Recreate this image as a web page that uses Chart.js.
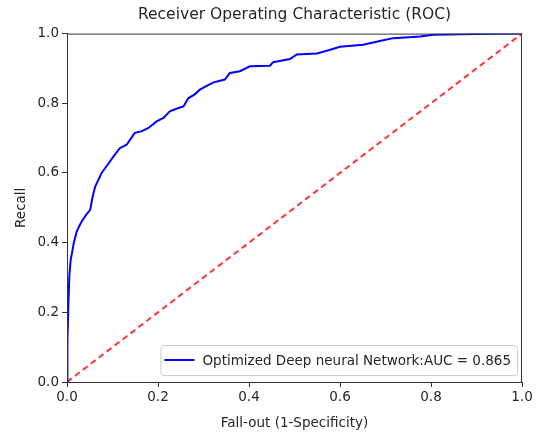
<!DOCTYPE html>
<html>
<head>
<meta charset="utf-8">
<script src="https://cdn.jsdelivr.net/npm/chart.js@4/dist/chart.umd.min.js"></script>
<style>
  html, body { margin: 0; padding: 0; background: #fff; }
  canvas { display: block; }
</style>
</head>
<body>
<canvas id="roc" width="537" height="436"></canvas>
<script>
// ROC curve (false positive rate vs recall)
const fpr = [0, 0.001, 0.003, 0.005, 0.008, 0.011, 0.015, 0.021, 0.026, 0.032, 0.042, 0.051, 0.056, 0.062, 0.076, 0.09, 0.102,
  0.116, 0.131, 0.149, 0.165, 0.179, 0.197, 0.212, 0.226, 0.242, 0.256, 0.267, 0.28, 0.292, 0.307, 0.322, 0.347,
  0.358, 0.38, 0.402, 0.446, 0.453, 0.49, 0.505, 0.549, 0.575, 0.6, 0.651, 0.695, 0.717, 0.776, 0.805, 0.9, 1];
const tpr = [0, 0.12, 0.22, 0.3, 0.35, 0.37, 0.4, 0.43, 0.445, 0.46, 0.48, 0.494, 0.53, 0.561, 0.6, 0.625, 0.647,
  0.671, 0.681, 0.715, 0.72, 0.729, 0.748, 0.758, 0.777, 0.785, 0.791, 0.815, 0.825, 0.839, 0.85, 0.86, 0.868,
  0.887, 0.892, 0.906, 0.908, 0.918, 0.927, 0.94, 0.943, 0.952, 0.962, 0.968, 0.981, 0.987, 0.992, 0.997, 0.999, 1];
const chanceX = [0, 1];
const chanceY = [0, 1];
const aucLabel = "Optimized Deep neural Network:AUC = 0.865";

const FONT = "'DejaVu Sans', sans-serif";
const INK = "#262626";
const TXT = 13.5;

// full box around the plot + matplotlib-style legend in the lower right
const frameAndLegend = {
  id: "frameAndLegend",
  afterDatasetsDraw(chart) {
    const { ctx, chartArea: a } = chart;
    ctx.save();
    ctx.strokeStyle = "#333";
    ctx.lineWidth = 1;
    ctx.strokeRect(a.left + 0.5, a.top + 0.5, a.right - a.left - 1, a.bottom - a.top);

    ctx.font = TXT + "px " + FONT;
    const tw = ctx.measureText(aucLabel).width;
    const w = tw + 48, h = 30;
    const x = a.right - 5 - w, y = a.bottom - 7 - h;
    ctx.fillStyle = "rgba(255,255,255,0.8)";
    ctx.strokeStyle = "#cccccc";
    ctx.beginPath();
    ctx.roundRect(x + 0.5, y + 0.5, w, h, 3);
    ctx.fill();
    ctx.stroke();
    ctx.strokeStyle = "#0000ff";
    ctx.lineWidth = 2;
    ctx.beginPath();
    ctx.moveTo(x + 4, y + h / 2);
    ctx.lineTo(x + 34, y + h / 2);
    ctx.stroke();
    ctx.fillStyle = INK;
    ctx.textBaseline = "middle";
    ctx.fillText(aucLabel, x + 42, y + h / 2 + 1);
    ctx.restore();
  },
};

const tickGrid = { display: true, drawOnChartArea: false, drawTicks: true, tickLength: 5, color: "#333", tickColor: "#333" };

new Chart(document.getElementById("roc"), {
  type: "line",
  data: {
    datasets: [
      {
        label: aucLabel,
        data: fpr.map((x, i) => ({ x, y: tpr[i] })),
        borderColor: "#0000ff", borderWidth: 2, pointRadius: 0, tension: 0, fill: false,
      },
      {
        label: "chance",
        data: chanceX.map((x, i) => ({ x, y: chanceY[i] })),
        borderColor: "rgba(255,0,0,0.8)", borderWidth: 2, borderDash: [6, 4], pointRadius: 0, fill: false,
      },
    ],
  },
  options: {
    responsive: false,
    animation: false,
    layout: { padding: { top: 0, right: 15, bottom: 0, left: 0 } },
    plugins: {
      legend: { display: false },
      tooltip: { enabled: false },
      title: {
        display: true, fullSize: false, text: "Receiver Operating Characteristic (ROC)",
        color: INK, font: { family: FONT, size: 15.5, weight: "normal" }, padding: { top: 6, bottom: 9 },
      },
    },
    scales: {
      x: {
        type: "linear", min: 0, max: 1,
        grid: tickGrid,
        border: { display: true, color: "#333" },
        ticks: { stepSize: 0.2, color: INK, font: { family: FONT, size: TXT }, padding: 2, maxRotation: 0,
          callback: (v) => v.toFixed(1) },
        title: { display: true, text: "Fall-out (1-Specificity)", color: INK, font: { family: FONT, size: TXT },
          padding: { top: 0, bottom: 4 } },
        afterFit: (s) => { s.height = 54; },
      },
      y: {
        min: 0, max: 1,
        grid: tickGrid,
        border: { display: true, color: "#333" },
        ticks: { stepSize: 0.2, color: INK, font: { family: FONT, size: TXT }, padding: 3,
          callback: (v) => v.toFixed(1) },
        title: { display: true, text: "Recall", color: INK, font: { family: FONT, size: TXT },
          padding: { top: 13, bottom: 0 } },
        afterFit: (s) => { s.width = 67; },
      },
    },
  },
  plugins: [frameAndLegend],
});
</script>
</body>
</html>
